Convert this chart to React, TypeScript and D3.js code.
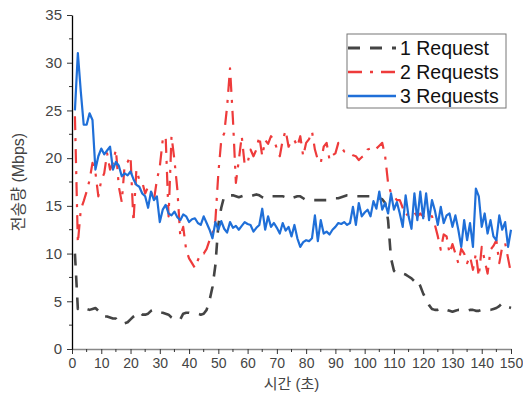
import React, { useEffect, useRef } from 'react';
import * as d3 from 'd3';

// seconds 1..150
const seconds = d3.range(1, 151);

const oneRequest = [
  10, 4.2, 4.4, 4.3, 4.2, 4.1, 4.2, 4.3, 4.0, 3.5,
  3.4, 3.4, 3.3, 3.2, 3.2, 2.8, 2.7, 2.7, 2.8, 3.1,
  3.4, 3.6, 3.9, 3.6, 3.6, 3.7, 4.0, 4.1, 3.9, 3.8,
  3.8, 3.7, 3.6, 3.3, 3.1, 3.0, 3.1, 3.7, 3.8, 3.8,
  3.7, 3.7, 3.7, 3.6, 3.7, 4.1, 5.1, 6.5, 8.8, 13.0,
  14.8, 16.0, 16.1, 16.1, 16.1, 16.0, 15.9, 16.0, 16.1, 16.1,
  16.0, 16.1, 16.2, 16.1, 15.9, 15.8, 16.0, 16.0, 16.0, 16.0,
  16.0, 16.0, 15.9, 15.7, 15.8, 15.9, 16.0, 16.0, 15.8, 15.6,
  15.6, 15.6, 15.6, 15.6, 15.6, 15.6, 15.6, 15.6, 15.7, 15.8,
  15.8, 15.9, 16.0, 16.1, 16.1, 16.0, 16.0, 16.0, 16.0, 16.0,
  16.0, 16.0, 16.0, 15.9, 15.8, 15.7, 15.3, 13.5, 9.5, 8.2,
  7.9, 7.9, 7.9, 7.8, 7.6, 7.4, 7.1, 7.3, 6.6, 5.8,
  5.2, 4.6, 4.2, 4.1, 4.1, 4.2, 4.3, 4.1, 4.0, 3.9,
  4.0, 4.1, 4.1, 4.1, 4.0, 4.1, 4.1, 4.0, 4.0, 4.1,
  4.1, 4.1, 4.1, 4.2, 4.3, 4.5, 4.8, 4.6, 4.4, 4.3,
];

const twoRequests = [
  24.4, 11.1, 14.6, 15.5, 16.5, 17.7, 19.5, 18.5, 16.0, 17.7,
  18.4, 20.5, 18.8, 19.5, 20.9, 17.0, 15.4, 19.3, 19.6, 20.2,
  13.3, 18.8, 17.7, 17.5, 16.3, 17.0, 16.5, 15.6, 17.7, 19.1,
  21.9, 22.3, 13.9, 22.3, 19.8, 16.7, 11.8, 12.8, 10.4, 9.5,
  9.0, 8.5, 9.3, 10.0, 10.0, 10.5, 11.4, 12.1, 13.5, 18.4,
  21.9, 22.6, 25.4, 29.4, 24.0, 17.4, 19.8, 22.3, 19.3, 19.5,
  20.9, 20.2, 20.9, 22.3, 20.2, 21.9, 21.5, 22.3, 21.9, 21.0,
  20.2, 21.9, 22.9, 21.2, 21.9, 21.9, 21.2, 22.3, 20.2, 21.6,
  22.0, 22.8, 20.9, 19.8, 19.5, 21.2, 21.6, 19.8, 20.3, 20.5,
  21.6, 21.2, 20.7, 20.6, 20.5, 20.3, 20.2, 19.8, 20.1, 20.3,
  20.9, 21.0, 21.2, 21.0, 21.3, 21.6, 20.2, 17.4, 16.3, 16.0,
  15.6, 15.6, 14.8, 14.0, 14.2, 14.0, 14.3, 13.9, 14.2, 13.9,
  14.1, 14.2, 13.9, 13.0, 11.8, 10.4, 12.0, 11.8, 10.0, 11.0,
  10.0, 9.0, 10.5, 10.0, 9.0, 9.7, 8.3, 10.0, 7.6, 10.7,
  9.3, 7.9, 10.4, 10.8, 11.4, 9.0, 10.7, 11.1, 9.5, 7.9,
];

const threeRequests = [
  25, 31, 27, 23.5, 23.5, 24.7, 24.0, 18.8, 20.2, 21.0,
  20.4, 20.8, 21.2, 18.8, 19.6, 19.2, 18.1, 18.4, 18.2, 18.6,
  17.8, 17.2, 17.0, 16.3, 16.0, 14.8, 16.5, 15.6, 16.0, 13.3,
  14.6, 15.1, 14.2, 14.0, 14.4, 13.8, 13.5, 14.1, 13.9, 13.3,
  13.6, 13.7, 13.2, 13.0, 13.9, 13.2, 12.5, 11.6, 13.3, 12.5,
  13.4, 12.6, 12.2, 13.3, 12.7, 12.9, 12.5, 12.9, 13.3, 13.1,
  13.0, 12.3, 12.7, 13.0, 14.7, 12.5, 13.9, 12.8, 13.2, 12.7,
  12.1, 13.2, 12.4, 12.8, 11.8, 13.0, 11.6, 10.7, 11.2, 11.4,
  11.3, 11.6, 14.0, 11.3, 13.5, 12.1, 12.3, 12.0, 12.5, 12.8,
  13.2, 13.1, 13.3, 13.0, 13.2, 14.9, 13.0, 15.3, 13.9, 14.3,
  14.6, 13.9, 15.5, 14.7, 16.5, 14.6, 15.3, 14.2, 16.3, 14.6,
  15.4, 14.2, 12.8, 16.1, 13.9, 12.6, 16.3, 13.5, 16.5, 13.7,
  16.3, 13.5, 15.6, 14.5, 13.0, 14.9, 13.2, 14.0, 14.2, 12.8,
  14.0, 12.5, 10.7, 13.5, 11.4, 13.2, 10.7, 16.8, 16.0, 12.8,
  14.2, 12.1, 13.5, 11.8, 11.4, 14.0, 12.5, 13.3, 10.7, 12.5,
];

const seriesNames = ['1 Request', '2 Requests', '3 Requests'];
const xTicks = d3.range(0, 151, 10);
const yTicks = [0, 5, 10, 15, 20, 25, 30, 35];

const styles = [
  { color: '#444444', dash: '12,10', width: 2.6 },
  { color: '#ee3b3b', dash: '14,8,3,8', width: 2.2 },
  { color: '#1f6fd8', dash: null, width: 2.2 },
];

const App = () => {
  const chartRef = useRef<SVGSVGElement>(null);

  useEffect(() => {
    const width = 523;
    const height = 404;
    const margin = { top: 15, right: 12, bottom: 55, left: 72 };
    const font = "'Liberation Sans', Arial, 'Noto Sans CJK KR', sans-serif";

    const svg = d3.select(chartRef.current);
    svg.selectAll('*').remove();
    svg.attr('width', width).attr('height', height);

    const x = d3.scaleLinear().domain([0, 150]).range([margin.left, width - margin.right]);
    const y = d3.scaleLinear().domain([0, 35]).range([height - margin.bottom, margin.top]);

    const line = d3
      .line<number>()
      .x((d, i) => x(seconds[i]))
      .y(d => y(d));

    [oneRequest, twoRequests, threeRequests].forEach((values, i) => {
      const s = styles[i];
      svg.append('path')
        .datum(values)
        .attr('fill', 'none')
        .attr('stroke', s.color)
        .attr('stroke-width', s.width)
        .attr('stroke-linejoin', 'round')
        .attr('stroke-dasharray', s.dash)
        .attr('d', line);
    });

    // x axis
    const xAxis = svg.append('g')
      .attr('transform', `translate(0, ${y(0)})`)
      .call(d3.axisBottom(x).tickValues(xTicks).tickSize(5).tickSizeOuter(0).tickPadding(4));
    xAxis.append('g')
      .selectAll('line')
      .data(d3.range(5, 150, 10))
      .enter().append('line')
      .attr('x1', d => x(d)).attr('x2', d => x(d))
      .attr('y1', 0).attr('y2', 3)
      .attr('stroke', '#333');
    xAxis.select('.domain').attr('stroke', '#888').attr('stroke-width', 1.5);
    xAxis.selectAll('.tick line').attr('stroke', '#333');
    xAxis.selectAll('text')
      .style('font-family', font)
      .style('font-size', '14px')
      .style('fill', '#444');

    // y axis
    const yAxis = svg.append('g')
      .attr('transform', `translate(${margin.left}, 0)`)
      .call(d3.axisLeft(y).tickValues(yTicks).tickSize(5).tickSizeOuter(0).tickPadding(5));
    yAxis.append('g')
      .selectAll('line')
      .data(d3.range(2.5, 35, 5))
      .enter().append('line')
      .attr('x1', -3).attr('x2', 0)
      .attr('y1', d => y(d)).attr('y2', d => y(d))
      .attr('stroke', '#333');
    yAxis.select('.domain').attr('stroke', '#000').attr('stroke-width', 1.3);
    yAxis.selectAll('.tick line').attr('stroke', '#333');
    yAxis.selectAll('text')
      .style('font-family', font)
      .style('font-size', '15px')
      .style('fill', '#444');

    // axis titles
    svg.append('text')
      .attr('x', (x(0) + x(150)) / 2)
      .attr('y', 389)
      .attr('text-anchor', 'middle')
      .style('font-family', font)
      .style('font-size', '15px')
      .style('fill', '#444')
      .text('시간 (초)');

    svg.append('text')
      .attr('transform', `translate(24, ${(y(0) + y(35)) / 2}) rotate(-90)`)
      .attr('text-anchor', 'middle')
      .style('font-family', font)
      .style('font-size', '16px')
      .style('fill', '#444')
      .text('전송량 (Mbps)');

    // legend
    const legend = svg.append('g').attr('transform', 'translate(347, 34)');
    legend.append('rect')
      .attr('width', 159)
      .attr('height', 74)
      .attr('fill', '#fff')
      .attr('stroke', '#777')
      .attr('stroke-width', 1);
    seriesNames.forEach((name, i) => {
      const s = styles[i];
      const ly = 14 + i * 24;
      legend.append('line')
        .attr('x1', 1).attr('x2', 49)
        .attr('y1', ly).attr('y2', ly)
        .attr('stroke', s.color)
        .attr('stroke-width', s.width + 0.4)
        .attr('stroke-dasharray', s.dash);
      legend.append('text')
        .attr('x', 53)
        .attr('y', ly + 7)
        .style('font-family', font)
        .style('font-size', '19.5px')
        .style('fill', '#111')
        .text(name);
    });
  }, []);

  return (
    <svg ref={chartRef} style={{ position: 'absolute', left: 0, top: 0, background: '#fff' }} />
  );
};

export default App;
